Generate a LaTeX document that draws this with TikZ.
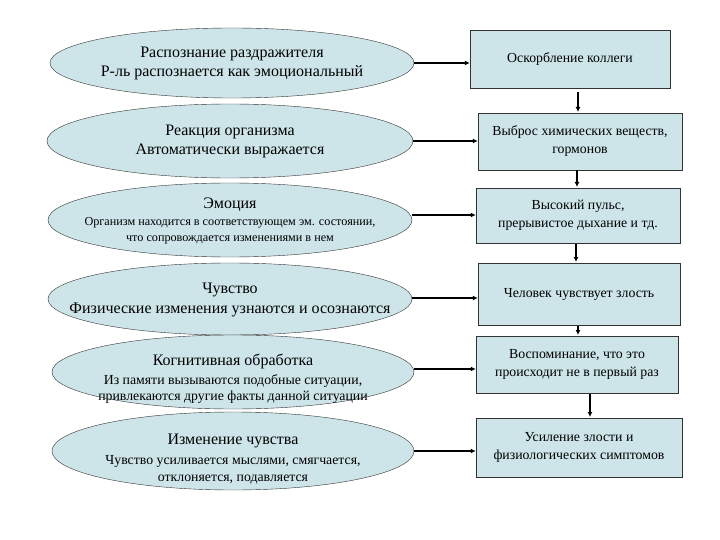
\documentclass[tikz,border=0pt]{standalone}
\usepackage{fontspec}
\setmainfont{Liberation Serif}
\usetikzlibrary{arrows.meta}
\definecolor{fillb}{HTML}{CDE5E9}
\tikzset{
 bx/.style={draw=black!80,fill=fillb,align=center,font=\fontsize{13.8}{18}\selectfont},
 arr/.style={-{Latex[length=5pt,width=5pt]},line width=1.1pt},
 big/.style={font=\fontsize{16}{19}\selectfont},
 sm/.style={font=\fontsize{12.2}{16}\selectfont}
}
\begin{document}
\begin{tikzpicture}[x=1pt,y=-1pt]
\useasboundingbox (0,0) rectangle (720,540);
\draw[draw=black!80,fill=fillb] (232,63) ellipse (182 and 35);
\coordinate (e1) at (414,63);
\node[big,align=center] at (232,63) {Распознание раздражителя\\Р-ль распознается как эмоциональный};
\draw[draw=black!80,fill=fillb] (230,141) ellipse (183 and 37);
\coordinate (e2) at (413,141);
\node[big,align=center] at (230,141) {Реакция организма\\Автоматически выражается};
\draw[draw=black!80,fill=fillb] (230,220) ellipse (182 and 37);
\coordinate (e3) at (412,215);
\node[big] at (230,205) {Эмоция};
\node[sm,align=center] at (230,231) {Организм находится в соответствующем эм. состоянии,\\что сопровождается изменениями в нем};
\draw[draw=black!80,fill=fillb] (230,299) ellipse (182 and 36);
\coordinate (e4) at (412,298);
\node[font=\fontsize{16}{20}\selectfont,align=center] at (230,300) {Чувство\\Физические изменения узнаются и осознаются};
\draw[draw=black!80,fill=fillb] (233,372) ellipse (181 and 37);
\coordinate (e5) at (414,369);
\node[big] at (233,361) {Когнитивная обработка};
\node[font=\fontsize{13.8}{16}\selectfont,align=center] at (233,389) {Из памяти вызываются подобные ситуации,\\привлекаются другие факты данной ситуации};
\draw[draw=black!80,fill=fillb] (233,451) ellipse (181 and 39);
\coordinate (e6) at (414,451);
\node[big] at (233,441) {Изменение чувства};
\node[font=\fontsize{13.8}{17}\selectfont,align=center] at (233,470) {Чувство усиливается мыслями, смягчается,\\отклоняется, подавляется};
\node[bx,minimum width=200pt,minimum height=58pt] (b1) at (570,59) {Оскорбление коллеги};
\node[bx,minimum width=204pt,minimum height=57pt] (b2) at (580,141.5) {Выброс химических веществ,\\гормонов};
\node[bx,minimum width=204pt,minimum height=55pt] (b3) at (578,215.5) {Высокий пульс,\\прерывистое дыхание и тд.};
\node[bx,minimum width=202pt,minimum height=62pt] (b4) at (579,294) {Человек чувствует злость};
\node[bx,minimum width=202pt,minimum height=57pt] (b5) at (577,364.5) {Воспоминание, что это\\происходит не в первый раз};
\node[bx,minimum width=206pt,minimum height=59pt] (b6) at (579,447.5) {Усиление злости и\\физиологических симптомов};
\draw[arr] (e1) -- (b1.west|-e1);
\draw[arr] (e2) -- (b2.west|-e2);
\draw[arr] (e3) -- (b3.west|-e3);
\draw[arr] (e4) -- (b4.west|-e4);
\draw[arr] (e5) -- (b5.west|-e5);
\draw[arr] (e6) -- (b6.west|-e6);
\draw[arr] (578,92) -- (578,112);
\draw[arr] (577,170) -- (577,187);
\draw[arr] (576,244) -- (576,262);
\draw[arr] (578,326) -- (578,335);
\draw[arr] (590,394) -- (590,417);
\end{tikzpicture}
\end{document}
